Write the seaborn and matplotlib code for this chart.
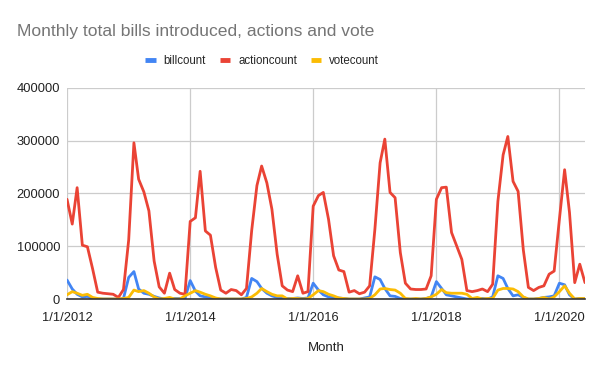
import numpy as np
import pandas as pd
import matplotlib
matplotlib.use("Agg")
import matplotlib.pyplot as plt
import matplotlib.dates as mdates
import seaborn as sns

# monthly values, Jan 2012 .. Jun 2020
months = pd.date_range("2012-01-01", "2020-06-01", freq="MS")

actioncount = [
    189000, 142000, 211000, 102000, 99000, 57000, 13000, 11000, 10000, 9000, 3000, 18000,
    112000, 296000, 227000, 203000, 167000, 72000, 23000, 11000, 49000, 18000, 11000, 9000,
    147000, 154000, 242000, 129000, 121000, 60000, 17000, 11000, 18000, 16000, 8000, 20000,
    130000, 215000, 252000, 220000, 170000, 85000, 25000, 17000, 14000, 44000, 11000, 14000,
    176000, 196000, 202000, 151000, 82000, 55000, 52000, 13000, 16000, 10000, 13000, 25000,
    132000, 258000, 303000, 202000, 192000, 88000, 30000, 19000, 18000, 18000, 19000, 44000,
    189000, 211000, 212000, 126000, 101000, 75000, 16000, 14000, 16000, 19000, 14000, 28000,
    185000, 273000, 308000, 223000, 204000, 93000, 22000, 16000, 22000, 25000, 47000, 53000,
    151000, 245000, 164000, 31000, 66000, 31000,
]
billcount = [
    36000, 19000, 9000, 4000, 5000, 1000, 0, 0, 0, 0, 0, 1000,
    41000, 52000, 19000, 11000, 9000, 5000, 2000, 0, 1000, 1000, 1000, 1000,
    35000, 15000, 6000, 4000, 3000, 1000, 0, 0, 0, 0, 0, 3000,
    39000, 33000, 20000, 11000, 6000, 3000, 1000, 1000, 1000, 2000, 1000, 2000,
    30000, 17000, 8000, 4000, 3000, 2000, 1000, 0, 0, 0, 2000, 4000,
    42000, 37000, 20000, 6000, 5000, 1000, 0, 0, 0, 0, 1000, 4000,
    33000, 20000, 8000, 6000, 4000, 2000, 0, 0, 1000, 1000, 0, 4000,
    44000, 39000, 20000, 6000, 8000, 3000, 0, 0, 1000, 3000, 4000, 6000,
    30000, 27000, 8000, 0, 1000, 1000,
]
votecount = [
    8000, 14000, 11000, 7000, 9000, 3000, 1000, 0, 0, 0, 0, 1000,
    3000, 17000, 14000, 16000, 11000, 4000, 0, 1000, 3000, 0, 0, 6000,
    11000, 16000, 13000, 9000, 6000, 2000, 0, 0, 0, 0, 0, 1000,
    4000, 11000, 20000, 14000, 9000, 6000, 6000, 0, 1000, 1000, 0, 1000,
    8000, 16000, 14000, 9000, 6000, 2000, 1000, 0, 0, 0, 0, 1000,
    8000, 19000, 20000, 18000, 17000, 11000, 1000, 0, 1000, 0, 1000, 4000,
    9000, 18000, 12000, 11000, 11000, 11000, 9000, 1000, 3000, 0, 1000, 1000,
    17000, 20000, 20000, 19000, 14000, 4000, 0, 0, 1000, 3000, 0, 4000,
    14000, 25000, 11000, 0, 1000, 1000,
]

series = ["billcount", "actioncount", "votecount"]
colors = ["#4285F4", "#EA4335", "#FBBC04"]
xtick_dates = ["2012-01-01", "2014-01-01", "2016-01-01", "2018-01-01", "2020-01-01"]
xtick_labels = ["1/1/2012", "1/1/2014", "1/1/2016", "1/1/2018", "1/1/2020"]
yticks = [0, 100000, 200000, 300000, 400000]

df = pd.DataFrame({"Month": months, "billcount": billcount,
                   "actioncount": actioncount, "votecount": votecount})
long = df.melt(id_vars="Month", value_vars=series, var_name="series", value_name="count")

sns.set_style("white")
plt.rcParams['font.family'] = ['Liberation Sans', 'DejaVu Sans']

fig = plt.figure(figsize=(6, 3.71), dpi=100)
ax = fig.add_axes([0.1117, 0.194, 0.8633, 0.569])

sns.lineplot(data=long, x="Month", y="count", hue="series", hue_order=series,
             palette=colors, linewidth=2, ax=ax, legend=False)

ax.set_xlim(months[0], months[-1])
ax.set_ylim(0, 400000)
ax.set_yticks(yticks)
ax.set_yticklabels([str(v) for v in yticks])
ax.set_xticks(pd.to_datetime(xtick_dates))
ax.set_xticklabels(xtick_labels)
ax.tick_params(axis="both", length=0, labelsize=9.3, colors="#222222")
ax.tick_params(axis="x", pad=9)
ax.tick_params(axis="y", pad=5)
ax.grid(True, color="#cccccc", linewidth=0.9)
ax.set_axisbelow(True)
for s in ["top", "right", "left"]:
    ax.spines[s].set_visible(False)
ax.spines["bottom"].set_color("#333333")
ax.spines["bottom"].set_linewidth(1.2)
ax.spines["bottom"].set_zorder(5)

ax.set_xlabel("Month", fontsize=9.5, color="#222222", labelpad=13)
ax.set_ylabel("")

fig.text(0.028, 0.915, "Monthly total bills introduced, actions and vote",
         fontsize=12.6, color="#757575", va="center")

handles = [plt.Line2D([], [], color=c, linewidth=3.5, solid_capstyle="butt") for c in colors]
fig.legend(handles, series, loc="center", bbox_to_anchor=(0.437, 0.835), ncol=3,
           frameon=False, fontsize=8.3, handlelength=0.9, handletextpad=0.7,
           columnspacing=1.2)

fig.savefig("out.png", dpi=100)
